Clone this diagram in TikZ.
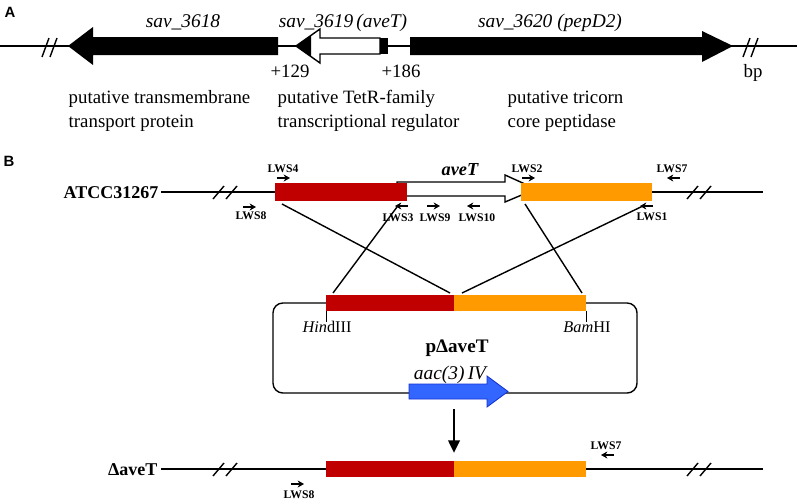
\documentclass[tikz,border=0pt]{standalone}
\usepackage{fontspec}
\setmainfont{Liberation Serif}
\setsansfont{Liberation Sans}
\usetikzlibrary{arrows.meta}
\definecolor{upred}{RGB}{192,0,0}
\definecolor{dnorange}{RGB}{255,155,0}
\definecolor{aacblue}{RGB}{51,102,255}
\definecolor{aacedge}{RGB}{20,50,210}

\begin{document}
\begin{tikzpicture}[x=0.025cm, y=-0.025cm, line width=1pt,
    every node/.style={inner sep=0pt},
    txt/.style={font=\fontsize{13.4}{16}\selectfont},
    gene/.style={font=\fontsize{13.8}{16}\selectfont\itshape},
    strain/.style={font=\fontsize{12.8}{15}\selectfont\bfseries},
    primer/.style={font=\fontsize{8.3}{10}\selectfont\bfseries},
    panel/.style={font=\fontsize{10.6}{12}\selectfont\sffamily\bfseries},
    parrow/.style={-{Stealth[length=4.5pt,width=5pt]}, line width=1.3pt}]
  \useasboundingbox (0,0) rectangle (800,500);

  \node[panel] (pa) at (10,12) {A};
  \coordinate (al) at (0,46);
  \coordinate (ar) at (797,46);
  \draw (al) -- (ar);
  \foreach \bx/\by in {42/46, 743/46}
    \draw (\bx,\by+11) -- ++(7,-19) (\bx+8,\by+11) -- ++(7,-19);
  \fill (68,46) -- (93,27) -- (93,37) -- (278,37) -- (278,55) -- (93,55) -- (93,65) -- cycle;
  \draw[fill=white] (296,46) -- (320,29) -- (320,38) -- (380,38) -- (380,54) -- (320,54) -- (320,63) -- cycle;
  \fill (296,46) -- (311,35.4) -- (311,56.6) -- cycle;
  \fill (380,38) rectangle (388,54);
  \fill (410,37) -- (702,37) -- (702,31) -- (733,46) -- (702,62) -- (702,55) -- (410,55) -- cycle;
  \node[gene, anchor=base] (g3618) at (183,27) {sav\_3618};
  \node[gene, anchor=base] (g3619) at (343,27) {sav\_3619\,(aveT)};
  \node[gene, anchor=base] (g3620) at (550,27) {sav\_3620 (pepD2)};
  \node[txt, anchor=base] (p129) at (290,77) {+129};
  \node[txt, anchor=base] (p186) at (401,77) {+186};
  \node[txt, anchor=base] (bp) at (753,77) {bp};
  \node[txt, anchor=base west] (d1a) at (68,103) {putative transmembrane};
  \node[txt, anchor=base west] (d1b) at (68,127) {transport protein};
  \node[txt, anchor=base west] (d2a) at (277,103) {putative TetR-family};
  \node[txt, anchor=base west] (d2b) at (277,127) {transcriptional regulator};
  \node[txt, anchor=base west] (d3a) at (507,103) {putative tricorn};
  \node[txt, anchor=base west] (d3b) at (507,127) {core peptidase};

  \node[panel] (pb) at (9,161) {B};
  \node[strain, anchor=base east] (wt) at (159,198) {ATCC31267};
  \node[strain, anchor=base east] (mut) at (158,475) {ΔaveT};
  \coordinate (wtl) at (161,192);
  \coordinate (wtr) at (763,192);
  \coordinate (mutl) at (161,469);
  \coordinate (mutr) at (763,469);
  \draw (wtl) -- (wtr);
  \draw (mutl) -- (mutr);
  \foreach \bx/\by in {213/192, 687/192, 213/469, 687/469}
    \draw (\bx,\by+7) -- ++(11,-13) (\bx+13,\by+7) -- ++(11,-13);
  \draw[fill=white] (397,182) -- (505,182) -- (505,175) -- (536,189) -- (505,202) -- (505,196) -- (397,196) -- cycle;
  \fill[upred] (275,183) rectangle (407,201);
  \fill[dnorange] (521,183) rectangle (652,201);
  \node[font=\fontsize{13}{15}\selectfont\bfseries\itshape, anchor=base] (avet) at (460,175) {aveT};

  \draw[rounded corners=7pt] (273,303) rectangle (637,393);
  \fill[upred] (326,295) rectangle (454,311);
  \fill[dnorange] (454,295) rectangle (586,311);
  \draw[line width=0.7pt] (326,311) -- (326,322) (586,311) -- (586,322);
  \node[txt, font=\fontsize{11.6}{14}\selectfont, anchor=base] (hind) at (327,332) {\textit{Hin}dIII};
  \node[txt, font=\fontsize{11.6}{14}\selectfont, anchor=base] (bam) at (587,332) {\textit{Bam}HI};
  \node[font=\fontsize{13.6}{16}\selectfont\bfseries, anchor=base] (pdel) at (457,352) {pΔaveT};
  \node[gene, anchor=base] (aac) at (450,379) {aac(3)\,IV};
  \draw[fill=aacblue, draw=aacedge, line width=0.6pt] (409,384) -- (487,384) -- (487,376) -- (508,391.5) -- (487,407) -- (487,399) -- (409,399) -- cycle;
  \coordinate (dtop) at (454,409);
  \coordinate (dbot) at (454,453);
  \draw[-{Triangle[length=9pt,width=8pt]}, line width=2pt] (dtop) -- (dbot);
  \fill[upred] (326,461) rectangle (454,477);
  \fill[dnorange] (454,461) rectangle (586,477);

  \coordinate (upL) at (282,204);
  \coordinate (dnL) at (525,204);
  \coordinate (pupL) at (333,293);
  \coordinate (pupR) at (450,293);
  \coordinate (pdnL) at (462,293);
  \coordinate (pdnR) at (582,293);
  \coordinate (lws3t) at (397,207);
  \coordinate (lws1t) at (645,205);
  \foreach \source/\dest in {upL/pupR, pupL/lws3t, dnL/pdnR, pdnL/lws1t}
    \draw (\source) -- (\dest);

  \foreach \nm/\txt/\lx/\ly/\ax/\ay/\dx in {p4/LWS4/283/169/277/178/13, p8/LWS8/251/216/243/207/13,
      p3/LWS3/398/218/408/206/-13, p9/LWS9/435/218/427/206/13, p10/LWS10/477/218/480/206/-13,
      p2/LWS2/527/169/522/178/13, p7/LWS7/672/169/680/178/-13, p1/LWS1/652/217/653/206/-13,
      q8/LWS8/299/495/291/484/13, q7/LWS7/606/446/614/455/-13}
  {
    \node[primer] (\nm) at (\lx,\ly) {\txt};
    \draw[parrow] (\ax,\ay) -- ++(\dx,0);
  }
\end{tikzpicture}
\end{document}
